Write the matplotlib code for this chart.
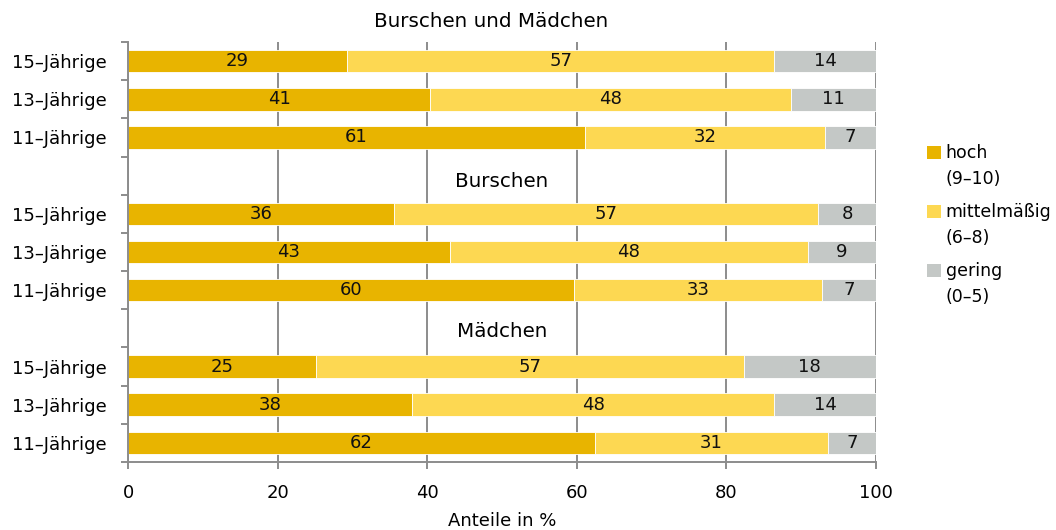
import matplotlib
matplotlib.use("Agg")
import matplotlib.pyplot as plt
from matplotlib.patches import Rectangle
from matplotlib.legend_handler import HandlerPatch
from matplotlib.container import BarContainer

plt.rcParams['font.family'] = ['DejaVu Sans']

# ---- data ----
groups = ["Burschen und Mädchen", "Burschen", "Mädchen"]
ages = ["15–Jährige", "13–Jährige", "11–Jährige"]
series_names = ["hoch\n(9–10)", "mittelmäßig\n(6–8)", "gering\n(0–5)"]
colors = ["#E8B400", "#FDD852", "#C4C8C6"]

hoch =   [29.3, 40.4, 61.1, 35.6, 43.0, 59.6, 25.1, 38.0, 62.4]
mittel = [57.1, 48.3, 32.1, 56.7, 47.9, 33.2, 57.2, 48.4, 31.2]
gering = [13.6, 11.3, 6.8, 7.7, 9.1, 7.2, 17.7, 13.6, 6.6]
labels_hoch =   [29, 41, 61, 36, 43, 60, 25, 38, 62]
labels_mittel = [57, 48, 32, 57, 48, 33, 57, 48, 31]
labels_gering = [14, 11, 7, 8, 9, 7, 18, 14, 7]

xticks = [0, 20, 40, 60, 80, 100]
xlabel = "Anteile in %"

FS = 13
# ---- layout ----
fig = plt.figure(figsize=(10.56, 5.30), dpi=100)
ax = fig.add_axes([128/1056, 1-462/530, 748/1056, 420/530])

ypos = [0, 1, 2, 4, 5, 6, 8, 9, 10]
bar_h = 0.59
gray = "#8C8C8C"

series = [hoch, mittel, gering]
labs = [labels_hoch, labels_mittel, labels_gering]
left = [0.0] * len(ypos)
handles = []
for vals, lab, col, name in zip(series, labs, colors, series_names):
    bars = ax.barh(ypos, vals, left=left, height=bar_h, color=col,
                   edgecolor="white", linewidth=0.6, label=name, zorder=2)
    handles.append(bars)
    ax.bar_label(bars, labels=[str(v) for v in lab], label_type="center",
                 fontsize=FS, color="#111111")
    left = [l + v for l, v in zip(left, vals)]

ax.set_xlim(0, 100)
ax.set_ylim(10.5, -0.5)
ax.set_xticks(xticks)
ax.set_xticklabels([str(t) for t in xticks], fontsize=FS)
ax.tick_params(axis="x", length=5, width=1.4, color=gray, pad=11)
ax.grid(axis="x", color=gray, linewidth=1.4, zorder=0)
ax.set_axisbelow(True)

ax.set_yticks([y - 0.5 for y in range(12)])
ax.set_yticklabels([])
ax.tick_params(axis="y", which="major", length=5, width=1.4, color=gray)
ax.set_yticks(ypos, minor=True)
ax.set_yticklabels(ages * 3, minor=True, fontsize=FS)
ax.tick_params(axis="y", which="minor", length=0, pad=15.5)

for s in ["top", "right"]:
    ax.spines[s].set_visible(False)
for s in ["left", "bottom"]:
    ax.spines[s].set_color(gray)
    ax.spines[s].set_linewidth(1.4)

ax.text(48.5, -1.03, groups[0], ha="center", va="center", fontsize=14.3,
        clip_on=False)
ax.text(50, 3.15, groups[1], ha="center", va="center", fontsize=14.3,
        zorder=3)
ax.text(50, 7.08, groups[2], ha="center", va="center", fontsize=14.3,
        zorder=3)

ax.set_xlabel(xlabel, fontsize=FS, labelpad=7)

LFS = 12.5
LSP = 1.6


class UpHandler(HandlerPatch):
    def create_artists(self, legend, orig_handle, xdescent, ydescent,
                       width, height, fontsize, trans):
        r = Rectangle((-xdescent, -ydescent + 10.8), width, height,
                      facecolor=orig_handle.patches[0].get_facecolor(),
                      edgecolor="none", transform=trans)
        return [r]


leg = fig.legend(handles=handles, labels=series_names,
                 loc="upper left", bbox_to_anchor=(927/1056, 1-144/530),
                 frameon=False, fontsize=LFS, handlelength=0.78,
                 handleheight=0.78, handletextpad=0.3, labelspacing=0.84,
                 borderpad=0, borderaxespad=0,
                 handler_map={BarContainer: UpHandler()})
for t in leg.get_texts():
    t.set_linespacing(LSP)

fig.savefig("out.png", dpi=100)
